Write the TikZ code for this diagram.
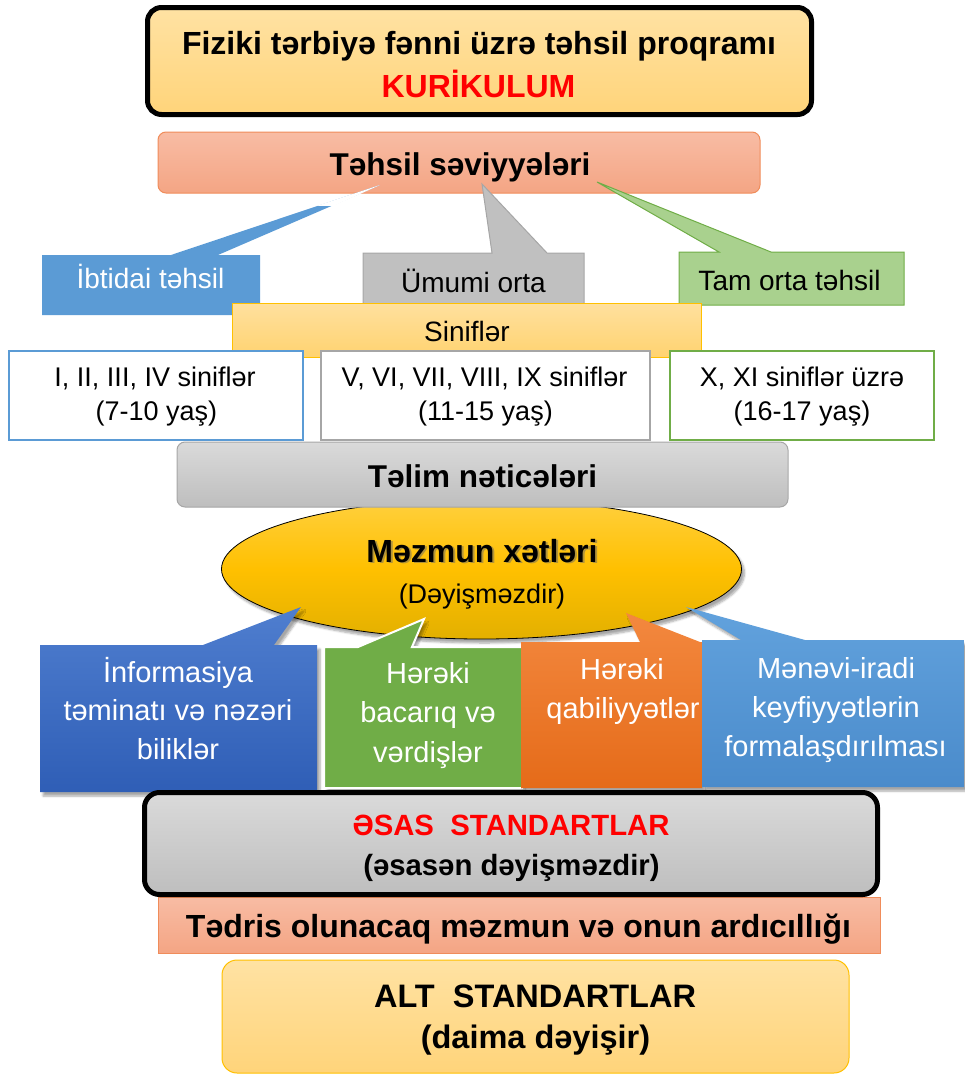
\documentclass[tikz,border=0pt]{standalone}
\usepackage{fontspec}
\setmainfont{Liberation Sans}
\usetikzlibrary{shapes.geometric,shadows.blur}
\definecolor{peachA}{HTML}{FFE2A3}
\definecolor{peachB}{HTML}{FFD47A}
\definecolor{sinA}{HTML}{FFE09E}
\definecolor{sinB}{HTML}{FFD370}
\definecolor{salmA}{HTML}{F8BCA4}
\definecolor{salmB}{HTML}{F4A584}
\definecolor{salmD}{HTML}{F08C5A}
\definecolor{blueL}{HTML}{5B9BD5}
\definecolor{grayF}{HTML}{C0C0C0}
\definecolor{grayD}{HTML}{A6A6A6}
\definecolor{greenL}{HTML}{A9D18E}
\definecolor{greenD}{HTML}{70AD47}
\definecolor{gold}{HTML}{FFC000}
\definecolor{lgA}{HTML}{DADADA}
\definecolor{lgB}{HTML}{BEBEBE}
\definecolor{ellA}{HTML}{FFD03F}
\definecolor{ellM}{HTML}{FFC000}
\definecolor{ellB}{HTML}{E3B000}
\definecolor{dblueA}{HTML}{4F7ECF}
\definecolor{dblueB}{HTML}{2F5EB6}
\definecolor{orA}{HTML}{F3883F}
\definecolor{orB}{HTML}{E56B19}
\definecolor{skyA}{HTML}{62A2DD}
\definecolor{skyB}{HTML}{4A8BCB}
\definecolor{redT}{HTML}{FF0000}
\begin{document}
\begin{tikzpicture}[x=1pt,y=-1pt,
  txt/.style={inner sep=0pt, anchor=base},
  bold31/.style={txt, font=\fontsize{31.5}{37}\selectfont\bfseries},
  bold32/.style={txt, font=\fontsize{32}{38}\selectfont\bfseries},
  reg28/.style={txt, font=\fontsize{28}{33}\selectfont},
  reg27/.style={txt, font=\fontsize{27}{32}\selectfont},
  reg29/.style={txt, font=\fontsize{29}{35}\selectfont, text=white},
  shade2/.style 2 args={top color=#1, bottom color=#2},
  cshadow/.style={blur shadow={shadow xshift=3pt, shadow yshift=-4pt, shadow blur steps=6, shadow opacity=35}}
]
\useasboundingbox (0,0) rectangle (964,1076);

% ---------- top box ----------
\node[draw=black, line width=5pt, rounded corners=14pt, shade2={peachA}{peachB},
      minimum width=664pt, minimum height=107pt, inner sep=0pt] (top) at (479.5,61) {};
\node[bold32] (title) at (479,54) {Fiziki tərbiyə fənni üzrə təhsil proqramı};
\node[bold32, text=redT] (kur) at (478.5,97) {KURİKULUM};

% ---------- Təhsil səviyyələri ----------
\node[draw=salmD, line width=1pt, rounded corners=8pt, shade2={salmA}{salmB},
      minimum width=602pt, minimum height=61pt, inner sep=0pt] (tehsil) at (459,162.5) {};
\node[bold31] (tehsilT) at (460,175) {Təhsil səviyyələri};

% ---------- level callouts ----------
\fill[blueL] (42,255) -- (171,255) -- (380,185) -- (218,255) -- (260,255) -- (260,315) -- (42,315) -- cycle;
\begin{scope}
  \clip (300,150) rectangle (400,205);
  \fill[white] (168,255) -- (380,185) -- (224,255) -- cycle;
\end{scope}
\node[reg28, text=white] (ibt) at (150.5,288) {İbtidai təhsil};

\filldraw[fill=grayF, draw=grayD, line width=1pt] (363,253) -- (492,253) -- (482,184) -- (547,253) -- (584,253) -- (584,312) -- (363,312) -- cycle;
\node[reg28] (umumi) at (473.5,292) {Ümumi orta};

\filldraw[fill=greenL, draw=greenD, line width=1pt] (679,252) -- (719,252) -- (597,182) -- (771,252) -- (904,252) -- (904,305) -- (679,305) -- cycle;
\node[reg28] (tam) at (789.5,290) {Tam orta təhsil};

% ---------- Siniflər ----------
\node[draw=gold, line width=1pt, shade2={sinA}{sinB},
      minimum width=469pt, minimum height=54pt, inner sep=0pt] (sinif) at (466.5,330) {};
\node[reg28] (sinifT) at (467,341) {Siniflər};

% ---------- class boxes ----------
\node[draw=blueL, line width=2pt, fill=white, minimum width=294pt, minimum height=89pt, inner sep=0pt] (c1) at (156,395.5) {};
\node[draw=grayD, line width=2pt, fill=white, minimum width=329pt, minimum height=89pt, inner sep=0pt] (c2) at (485.5,395.5) {};
\node[draw=greenD, line width=2pt, fill=white, minimum width=264pt, minimum height=89pt, inner sep=0pt] (c3) at (802,395.5) {};
\node[reg27] (c1a) at (155,386) {I, II, III, IV siniflər};
\node[reg27] (c1b) at (156.5,420) {(7-10 yaş)};
\node[reg27] (c2a) at (484.5,386) {V, VI, VII, VIII, IX siniflər};
\node[reg27] (c2b) at (485.5,420) {(11-15 yaş)};
\node[reg27] (c3a) at (802,386) {X, XI siniflər üzrə};
\node[reg27] (c3b) at (802,420) {(16-17 yaş)};

% ---------- ellipse ----------
\node[ellipse, draw=black, line width=0.8pt, top color=ellA, bottom color=ellB, middle color=ellM,
      minimum width=520pt, minimum height=140pt, inner sep=0pt, cshadow] (ell) at (481.5,569) {};

% ---------- Təlim nəticələri ----------
\node[draw=grayD, line width=1pt, rounded corners=8pt, shade2={lgA}{lgB},
      minimum width=611pt, minimum height=65pt, inner sep=0pt] (telim) at (482.5,474.5) {};
\node[bold31] (telimT) at (482.5,487) {Təlim nəticələri};

\node[bold32, text=black!60, opacity=0.5] (mezS) at (484,563.5) {Məzmun xətləri};
\node[bold32] (mez) at (482,562) {Məzmun xətləri};
\node[txt, font=\fontsize{27}{32}\selectfont] (dey) at (482,603) {(Dəyişməzdir)};

% ---------- content callouts ----------
\path[shade2={dblueA}{dblueB}, cshadow] (40,645) -- (203,645) -- (301,607) -- (274,645) -- (317,645) -- (317,792) -- (40,792) -- cycle;
\node[reg29] (b1) at (178,682) {İnformasiya};
\node[reg29] (b2) at (178,720) {təminatı və nəzəri};
\node[reg29] (b3) at (178,759) {biliklər};

\filldraw[fill=greenD, draw=white, line width=2pt, cshadow] (324,647) -- (358,647) -- (424,619) -- (412,647) -- (522,647) -- (522,788) -- (324,788) -- cycle;
\node[reg29] (g1) at (428,683) {Hərəki};
\node[reg29] (g2) at (428,722) {bacarıq və};
\node[reg29] (g3) at (428,762) {vərdişlər};

\path[shade2={orA}{orB}, cshadow] (521,642) -- (640,642) -- (626,613) -- (700,642) -- (702,642) -- (702,788) -- (521,788) -- cycle;
\node[reg29] (o1) at (622,679) {Hərəki};
\node[reg29] (o2) at (623,718) {qabiliyyətlər};

\path[shade2={skyA}{skyB}, cshadow] (702,640) -- (741,640) -- (686,607) -- (805,640) -- (964,640) -- (964,787) -- (702,787) -- cycle;
\node[reg29] (s1) at (836,678) {Mənəvi-iradi};
\node[reg29] (s2) at (836,717) {keyfiyyətlərin};
\node[reg29] (s3) at (835.5,756) {formalaşdırılması};

% ---------- standards ----------
\node[draw=salmD, line width=1pt, shade2={salmA}{salmB},
      minimum width=722pt, minimum height=56pt, inner sep=0pt] (tedris) at (519,925) {};
\node[bold32] (tedrisT) at (518.5,937) {Tədris olunacaq məzmun və onun ardıcıllığı};

\node[draw=black, line width=5pt, rounded corners=15pt, shade2={lgA}{lgB},
      minimum width=733pt, minimum height=102pt, inner sep=0pt] (esas) at (511,843.5) {};
\node[txt, font=\fontsize{29.3}{35}\selectfont\bfseries, text=redT] (esasT) at (511,835) {ƏSAS\ \ STANDARTLAR};
\node[txt, font=\fontsize{29.3}{35}\selectfont\bfseries] (esasB) at (511.5,875) {(əsasən dəyişməzdir)};

\node[draw=gold, line width=1pt, rounded corners=15pt, shade2={peachA}{peachB},
      minimum width=627pt, minimum height=113pt, inner sep=0pt] (alt) at (535.5,1016.5) {};
\node[txt, font=\fontsize{32.5}{38}\selectfont\bfseries] (altT) at (535,1007) {ALT\ \ STANDARTLAR};
\node[txt, font=\fontsize{32.5}{38}\selectfont\bfseries] (altB) at (535.5,1048) {(daima dəyişir)};
\end{tikzpicture}
\end{document}
